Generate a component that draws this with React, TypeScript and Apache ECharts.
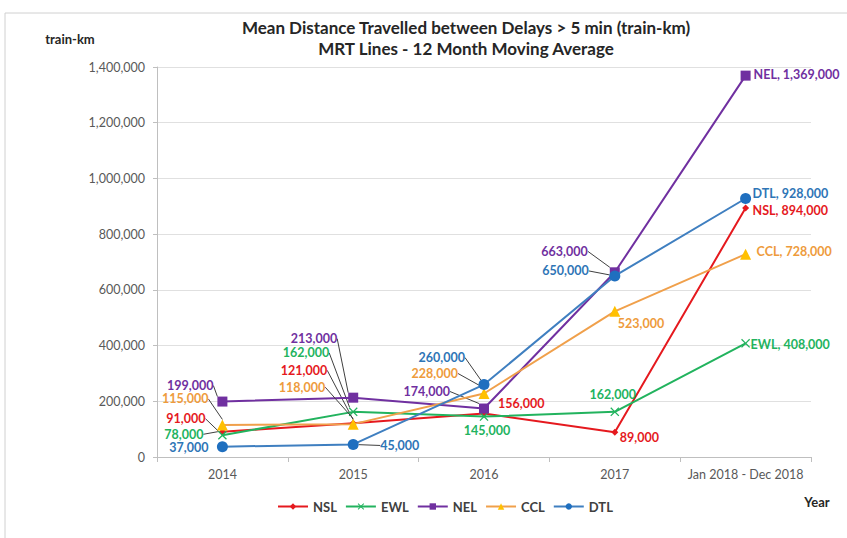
import React, { useEffect, useRef } from "react";
import * as echarts from "echarts";

const categories = ["2014", "2015", "2016", "2017", "Jan 2018 - Dec 2018"];
const seriesNames = ["NSL", "EWL", "NEL", "CCL", "DTL"];
const nslValues = [91000, 121000, 156000, 89000, 894000];
const ewlValues = [78000, 162000, 145000, 162000, 408000];
const nelValues = [199000, 213000, 174000, 663000, 1369000];
const cclValues = [115000, 118000, 228000, 523000, 728000];
const dtlValues = [37000, 45000, 260000, 650000, 928000];
const yTicks = [0, 200000, 400000, 600000, 800000, 1000000, 1200000, 1400000];

// label placement relative to the point: [dx, dy, align, leaderLine]
const labelPlacement: [number, number, string, boolean][][] = [
  // NSL
  [[-17, -13, "right", true], [-26, -53, "right", true], [14, -10, "left", false], [5, 5, "left", false], [7, 3, "left", false]],
  // EWL
  [[-19, -1, "right", true], [-24, -59, "right", true], [3, 14, "center", false], [-2, -17, "center", false], [5, 1, "left", false]],
  // NEL
  [[-9, -16, "right", true], [-16, -59, "right", true], [-34, -17, "right", true], [-27, -21, "right", true], [8, -1, "left", false]],
  // CCL
  [[-14, -26, "right", true], [-28, -37, "right", true], [-26, -20, "right", true], [3, 12, "left", false], [11, -3, "left", false]],
  // DTL
  [[-14, 1, "right", false], [27, 1, "left", true], [-19, -27, "right", true], [-26, -5, "right", true], [7, -5, "left", false]],
];

const lineColors = ["#E5191E", "#22B35E", "#7030A0", "#F0A04B", "#3F7FC0"];
const markerColors = ["#E5191E", "#22B35E", "#7030A0", "#FFC000", "#1F6FBF"];
const labelColors = ["#E5191E", "#22B35E", "#7030A0", "#EE9B3C", "#2E75B6"];
const symbols = [
  "diamond",
  "path://M1,0 L5,4 L9,0 L10,1 L6,5 L10,9 L9,10 L5,6 L1,10 L0,9 L4,5 L0,1 Z",
  "rect",
  "triangle",
  "circle",
];
const symbolSizes = [7, 9, 10, 11, 11];

const fmt = (v: number) => v.toLocaleString("en-US");

export default function App() {
  const ref = useRef<HTMLDivElement>(null);
  useEffect(() => {
    document.body.style.margin = "0";
    const chart = echarts.init(ref.current!, undefined, { renderer: "svg" });
    const allValues = [nslValues, ewlValues, nelValues, cclValues, dtlValues];
    const font = "Lato";
    const series = allValues.map((vals, si) => ({
      name: seriesNames[si],
      type: "line",
      data: vals.map((v, di) => ({
        value: v,
        labelLine: { show: labelPlacement[si][di][3] },
      })),
      symbol: symbols[si],
      symbolSize: symbolSizes[si],
      lineStyle: { color: lineColors[si], width: 2 },
      itemStyle: { color: markerColors[si] },
      label: {
        show: true,
        color: labelColors[si],
        fontFamily: font,
        fontWeight: "bold",
        fontSize: 12.5,
        lineHeight: 14,
        formatter: (p: any) =>
          p.dataIndex === categories.length - 1
            ? `${p.seriesName}, ${fmt(p.value)}`
            : fmt(p.value),
      },
      labelLine: {
        show: true,
        lineStyle: { color: "#404040", width: 1 },
      },
      labelLayout: (p: any) => {
        const pl = labelPlacement[p.seriesIndex][p.dataIndex];
        const cx = p.rect.x + p.rect.width / 2;
        const cy = p.rect.y + p.rect.height / 2;
        return { x: cx + pl[0], y: cy + pl[1], align: pl[2], verticalAlign: "middle" };
      },
      z: si === 4 ? 5 : 2 + si,
    }));
    chart.setOption({
      animation: false,
      textStyle: { fontFamily: font },
      grid: { left: 157, right: 36, top: 67, bottom: 81 },
      graphic: [
        {
          type: "rect",
          shape: { x: 5, y: 13, width: 900, height: 600 },
          style: { fill: "none", stroke: "#D0D0D0", lineWidth: 1 },
          silent: true,
        },
        {
          type: "text",
          x: 466,
          y: 27,
          style: {
            text: "Mean Distance Travelled between Delays > 5 min (train-km)",
            fontFamily: font,
            fontWeight: "bold",
            fontSize: 17,
            fill: "#262626",
            align: "center",
            verticalAlign: "middle",
          },
        },
        {
          type: "text",
          x: 466,
          y: 48,
          style: {
            text: "MRT Lines - 12 Month Moving Average",
            fontFamily: font,
            fontWeight: "bold",
            fontSize: 17,
            fill: "#262626",
            align: "center",
            verticalAlign: "middle",
          },
        },
        {
          type: "text",
          x: 70,
          y: 39,
          style: {
            text: "train-km",
            fontFamily: font,
            fontWeight: "bold",
            fontSize: 13,
            fill: "#262626",
            align: "center",
            verticalAlign: "middle",
          },
        },
        {
          type: "text",
          x: 817,
          y: 502,
          style: {
            text: "Year",
            fontFamily: font,
            fontWeight: "bold",
            fontSize: 13,
            fill: "#262626",
            align: "center",
            verticalAlign: "middle",
          },
        },
      ],
      legend: {
        data: seriesNames,
        left: 272,
        top: 495,
        itemWidth: 30,
        itemHeight: 8,
        itemGap: 8,
        textStyle: { fontFamily: font, fontWeight: "bold", fontSize: 13, color: "#404040" },
      },
      xAxis: {
        type: "category",
        data: categories,
        boundaryGap: true,
        axisLine: { lineStyle: { color: "#BFBFBF" } },
        axisTick: { show: true, length: 5, lineStyle: { color: "#BFBFBF" } },
        axisLabel: { color: "#595959", fontSize: 12.5, margin: 11, fontFamily: font, interval: 0 },
      },
      yAxis: {
        type: "value",
        min: yTicks[0],
        max: yTicks[yTicks.length - 1],
        interval: yTicks[1] - yTicks[0],
        axisLine: { show: true, lineStyle: { color: "#BFBFBF" } },
        axisTick: { show: true, length: 4, lineStyle: { color: "#BFBFBF" } },
        splitLine: { lineStyle: { color: "#E0E0E0" } },
        axisLabel: { color: "#595959", fontSize: 12.5, margin: 12, fontFamily: font, formatter: (v: number) => fmt(v) },
      },
      series,
    });
    return () => chart.dispose();
  }, []);
  return <div ref={ref} style={{ width: 847, height: 538 }} />;
}
